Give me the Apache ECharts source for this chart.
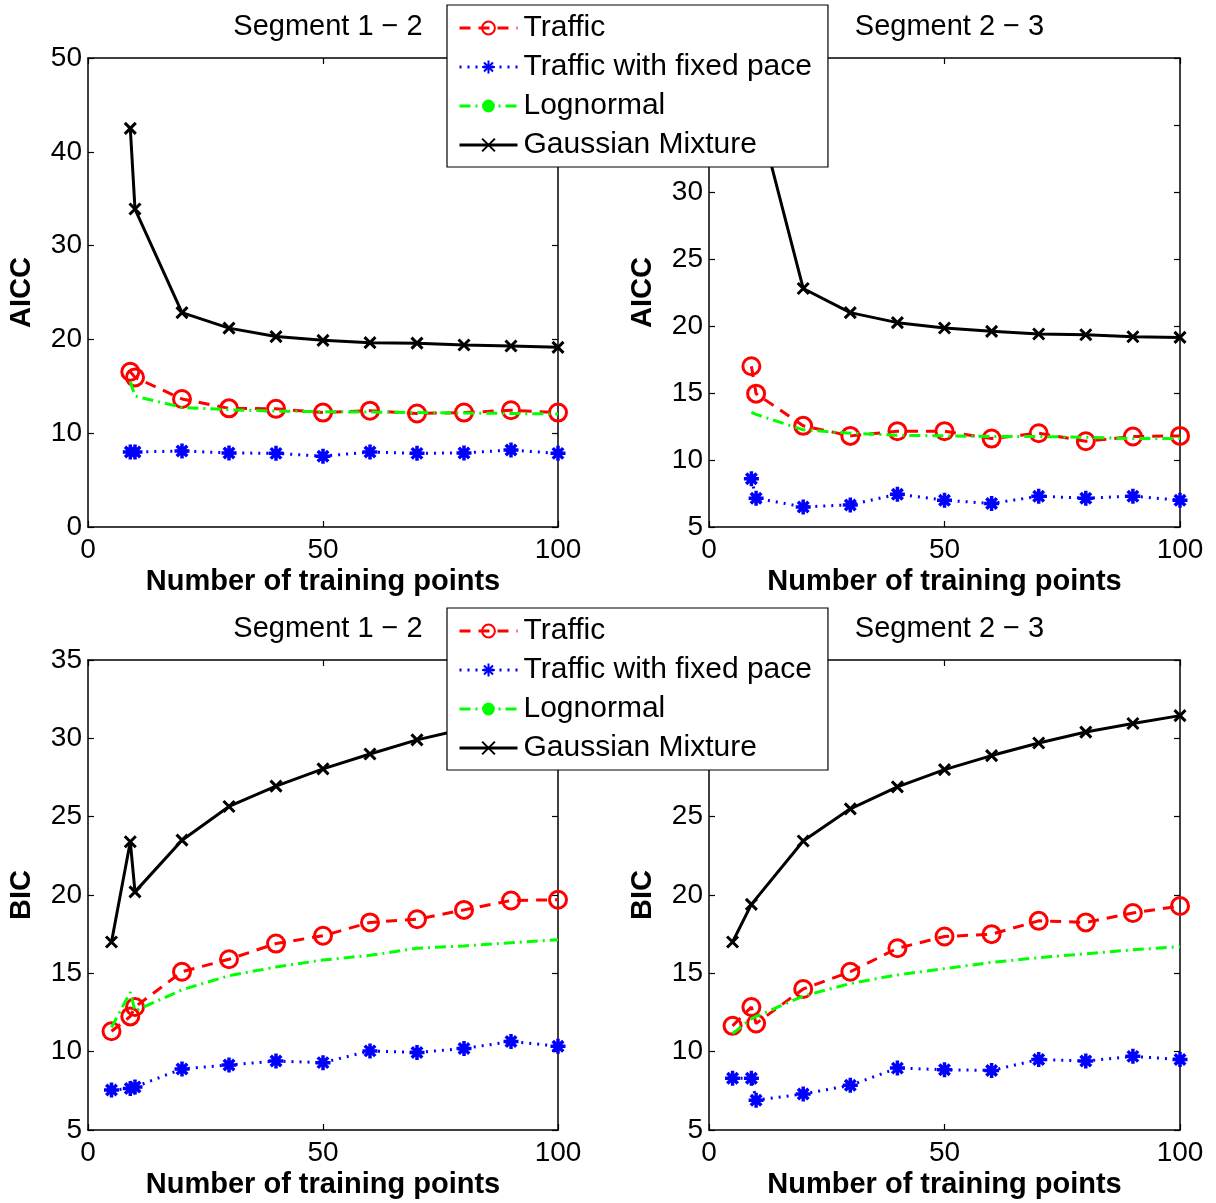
<!DOCTYPE html>
<html>
<head>
<meta charset="utf-8">
<script src="https://cdn.jsdelivr.net/npm/echarts@6/dist/echarts.min.js"></script>
<style>
  html, body { margin: 0; padding: 0; background: #fff; }
  #chart { width: 1216px; height: 1203px; }
</style>
</head>
<body>
<div id="chart"></div>
<script>
// x positions (number of training points)
const xAicc = [9, 10, 20, 30, 40, 50, 60, 70, 80, 90, 100];
const xBic = [5, 9, 10, 20, 30, 40, 50, 60, 70, 80, 90, 100];

// AICC, segment 1 - 2
const aicc12Traffic = [16.55, 15.95, 13.65, 12.65, 12.6, 12.2, 12.4, 12.1, 12.2, 12.45, 12.2];
const aicc12Fixed = [8.0, 8.0, 8.1, 7.9, 7.85, 7.55, 8.0, 7.85, 7.9, 8.2, 7.85];
const aicc12Lognormal = [15.5, 13.95, 12.75, 12.5, 12.35, 12.3, 12.25, 12.2, 12.15, 12.1, 12.05];
const aicc12Gauss = [42.5, 33.9, 22.85, 21.2, 20.3, 19.9, 19.65, 19.6, 19.4, 19.3, 19.15];

// AICC, segment 2 - 3
const aicc23Traffic = [17.0, 14.95, 12.55, 11.8, 12.15, 12.15, 11.6, 12.0, 11.4, 11.75, 11.8];
const aicc23Fixed = [8.6, 7.15, 6.5, 6.65, 7.45, 7.0, 6.75, 7.3, 7.15, 7.3, 7.0];
const aicc23Lognormal = [13.55, 13.4, 12.25, 12.0, 11.85, 11.8, 11.75, 11.75, 11.7, 11.6, 11.6];
const aicc23Gauss = [45, 36.4, 22.8, 21.0, 20.25, 19.85, 19.6, 19.4, 19.35, 19.2, 19.15];

// BIC, segment 1 - 2
const bic12Traffic = [11.3, 12.25, 12.85, 15.1, 15.9, 16.9, 17.4, 18.25, 18.45, 19.05, 19.65, 19.7];
const bic12Fixed = [7.55, 7.65, 7.75, 8.9, 9.15, 9.4, 9.3, 10.05, 9.95, 10.2, 10.65, 10.35];
const bic12Lognormal = [11.55, 13.8, 12.6, 13.95, 14.85, 15.4, 15.85, 16.15, 16.6, 16.75, 16.95, 17.15];
const bic12Gauss = [17.0, 23.4, 20.2, 23.5, 25.65, 26.95, 28.05, 29.0, 29.9, 30.6, 31.2, 31.8];

// BIC, segment 2 - 3
const bic23Traffic = [11.65, 12.85, 11.8, 14.0, 15.1, 16.6, 17.35, 17.5, 18.35, 18.25, 18.85, 19.3];
const bic23Fixed = [8.3, 8.3, 6.9, 7.3, 7.85, 8.95, 8.85, 8.8, 9.5, 9.4, 9.7, 9.5];
const bic23Lognormal = [11.15, 12.1, 12.25, 13.55, 14.35, 14.9, 15.3, 15.7, 16.0, 16.25, 16.5, 16.7];
const bic23Gauss = [17.0, 19.4, null, 23.45, 25.5, 26.9, 28.0, 28.9, 29.7, 30.4, 30.95, 31.45];

const names = ["Traffic", "Traffic with fixed pace", "Lognormal", "Gaussian Mixture"];
const titles = ["Segment 1 \u2212 2", "Segment 2 \u2212 3", "Segment 1 \u2212 2", "Segment 2 \u2212 3"];
const yNames = ["AICC", "AICC", "BIC", "BIC"];
const yRanges = [[0, 50, 10], [5, 40, 5], [5, 35, 5], [5, 35, 5]];

const panels = [
  { x: xAicc, data: [aicc12Traffic, aicc12Fixed, aicc12Lognormal, aicc12Gauss] },
  { x: xAicc, data: [aicc23Traffic, aicc23Fixed, aicc23Lognormal, aicc23Gauss] },
  { x: xBic, data: [bic12Traffic, bic12Fixed, bic12Lognormal, bic12Gauss] },
  { x: xBic, data: [bic23Traffic, bic23Fixed, bic23Lognormal, bic23Gauss] }
];

const gridBoxes = [
  { left: 88, top: 58, width: 470, height: 469 },
  { left: 709, top: 58, width: 471, height: 469 },
  { left: 88, top: 660, width: 470, height: 470 },
  { left: 709, top: 660, width: 471, height: 470 }
];

const font = "Liberation Sans, Arial, Helvetica, sans-serif";
const star = "path://M0,-10L0,10M-10,0L10,0M-7,-7L7,7M-7,7L7,-7";
const cross = "path://M0,0L10,10M0,10L10,0";

const styles = [
  { color: "#ff0000", lineType: [11, 8], symbol: "circle", size: 17, bw: 3, fill: "rgba(0,0,0,0)" },
  { color: "#0000ff", lineType: [2, 6], symbol: star, size: 15, bw: 3.5, fill: "#0000ff" },
  { color: "#00ff00", lineType: [11, 5, 2, 5], symbol: "none", size: 0, bw: 0, fill: "#00ff00" },
  { color: "#000000", lineType: "solid", symbol: cross, size: 11, bw: 3, fill: "#000000" }
];

let chart = echarts.init(document.getElementById("chart"));

let grid = [], xAxis = [], yAxis = [], series = [], title = [];
gridBoxes.forEach(function (g, i) {
  grid.push(Object.assign({ show: false, containLabel: false }, g));
  title.push({
    text: titles[i],
    left: g.left + g.width / 2,
    top: g.top - 51,
    textAlign: "center",
    textStyle: { fontFamily: font, fontSize: 29, fontWeight: "normal", color: "#000" }
  });
  let axLine = { show: true, onZero: false, lineStyle: { color: "#000", width: 1.5 } };
  let tick = { show: true, inside: true, length: 6, lineStyle: { color: "#000", width: 1.2 } };
  // bottom / top x axes
  xAxis.push({
    gridIndex: i, type: "value", min: 0, max: 100, interval: 50, position: "bottom",
    axisLine: axLine, axisTick: tick, splitLine: { show: false },
    axisLabel: { fontFamily: font, fontSize: 28, color: "#000", margin: 9 },
    name: "Number of training points", nameLocation: "middle", nameGap: 40,
    nameTextStyle: { fontFamily: font, fontSize: 29, fontWeight: "bold", color: "#000" }
  });
  xAxis.push({
    gridIndex: i, type: "value", min: 0, max: 100, interval: 50, position: "top",
    axisLine: axLine, axisTick: tick, splitLine: { show: false }, axisLabel: { show: false }
  });
  let r = yRanges[i];
  yAxis.push({
    gridIndex: i, type: "value", min: r[0], max: r[1], interval: r[2], position: "left",
    axisLine: axLine, axisTick: tick, splitLine: { show: false },
    axisLabel: { fontFamily: font, fontSize: 28, color: "#000", margin: 6 },
    name: yNames[i], nameLocation: "middle", nameGap: 52, nameRotate: 90,
    nameTextStyle: { fontFamily: font, fontSize: 29, fontWeight: "bold", color: "#000" }
  });
  yAxis.push({
    gridIndex: i, type: "value", min: r[0], max: r[1], interval: r[2], position: "right",
    axisLine: axLine, axisTick: tick, splitLine: { show: false }, axisLabel: { show: false }
  });

  let p = panels[i];
  p.data.forEach(function (vals, k) {
    let s = styles[k];
    series.push({
      name: names[k],
      type: "line",
      xAxisIndex: i * 2,
      yAxisIndex: i * 2,
      data: p.x.map(function (xv, j) { return [xv, vals[j]]; }).filter(function (d) { return d[1] !== null; }),
      symbol: s.symbol,
      symbolSize: s.size,
      showSymbol: s.symbol !== "none",
      clip: true,
      animation: false,
      lineStyle: { color: s.color, width: 3, type: s.lineType },
      itemStyle: { color: s.fill, borderColor: s.color, borderWidth: s.bw, opacity: 1 },
      emphasis: { disabled: true },
      z: 3 + k
    });
  });
});

function legendAt(top) {
  return {
    data: names,
    orient: "vertical",
    left: 447,
    top: top,
    z: 20,
    itemWidth: 58,
    itemHeight: 16,
    itemGap: 9,
    padding: [8, 16, 7, 11],
    backgroundColor: "#fff",
    borderColor: "#000",
    borderWidth: 1.2,
    selectedMode: false,
    lineStyle: { width: 3 },
    textStyle: { fontFamily: font, fontSize: 30, color: "#000", lineHeight: 30, padding: [0, 0, 0, 1] }
  };
}

let option = {
  backgroundColor: "#fff",
  animation: false,
  title: title,
  legend: [legendAt(5), legendAt(608)],
  grid: grid,
  xAxis: xAxis,
  yAxis: yAxis,
  series: series
};
chart.setOption(option);
</script>
</body>
</html>
